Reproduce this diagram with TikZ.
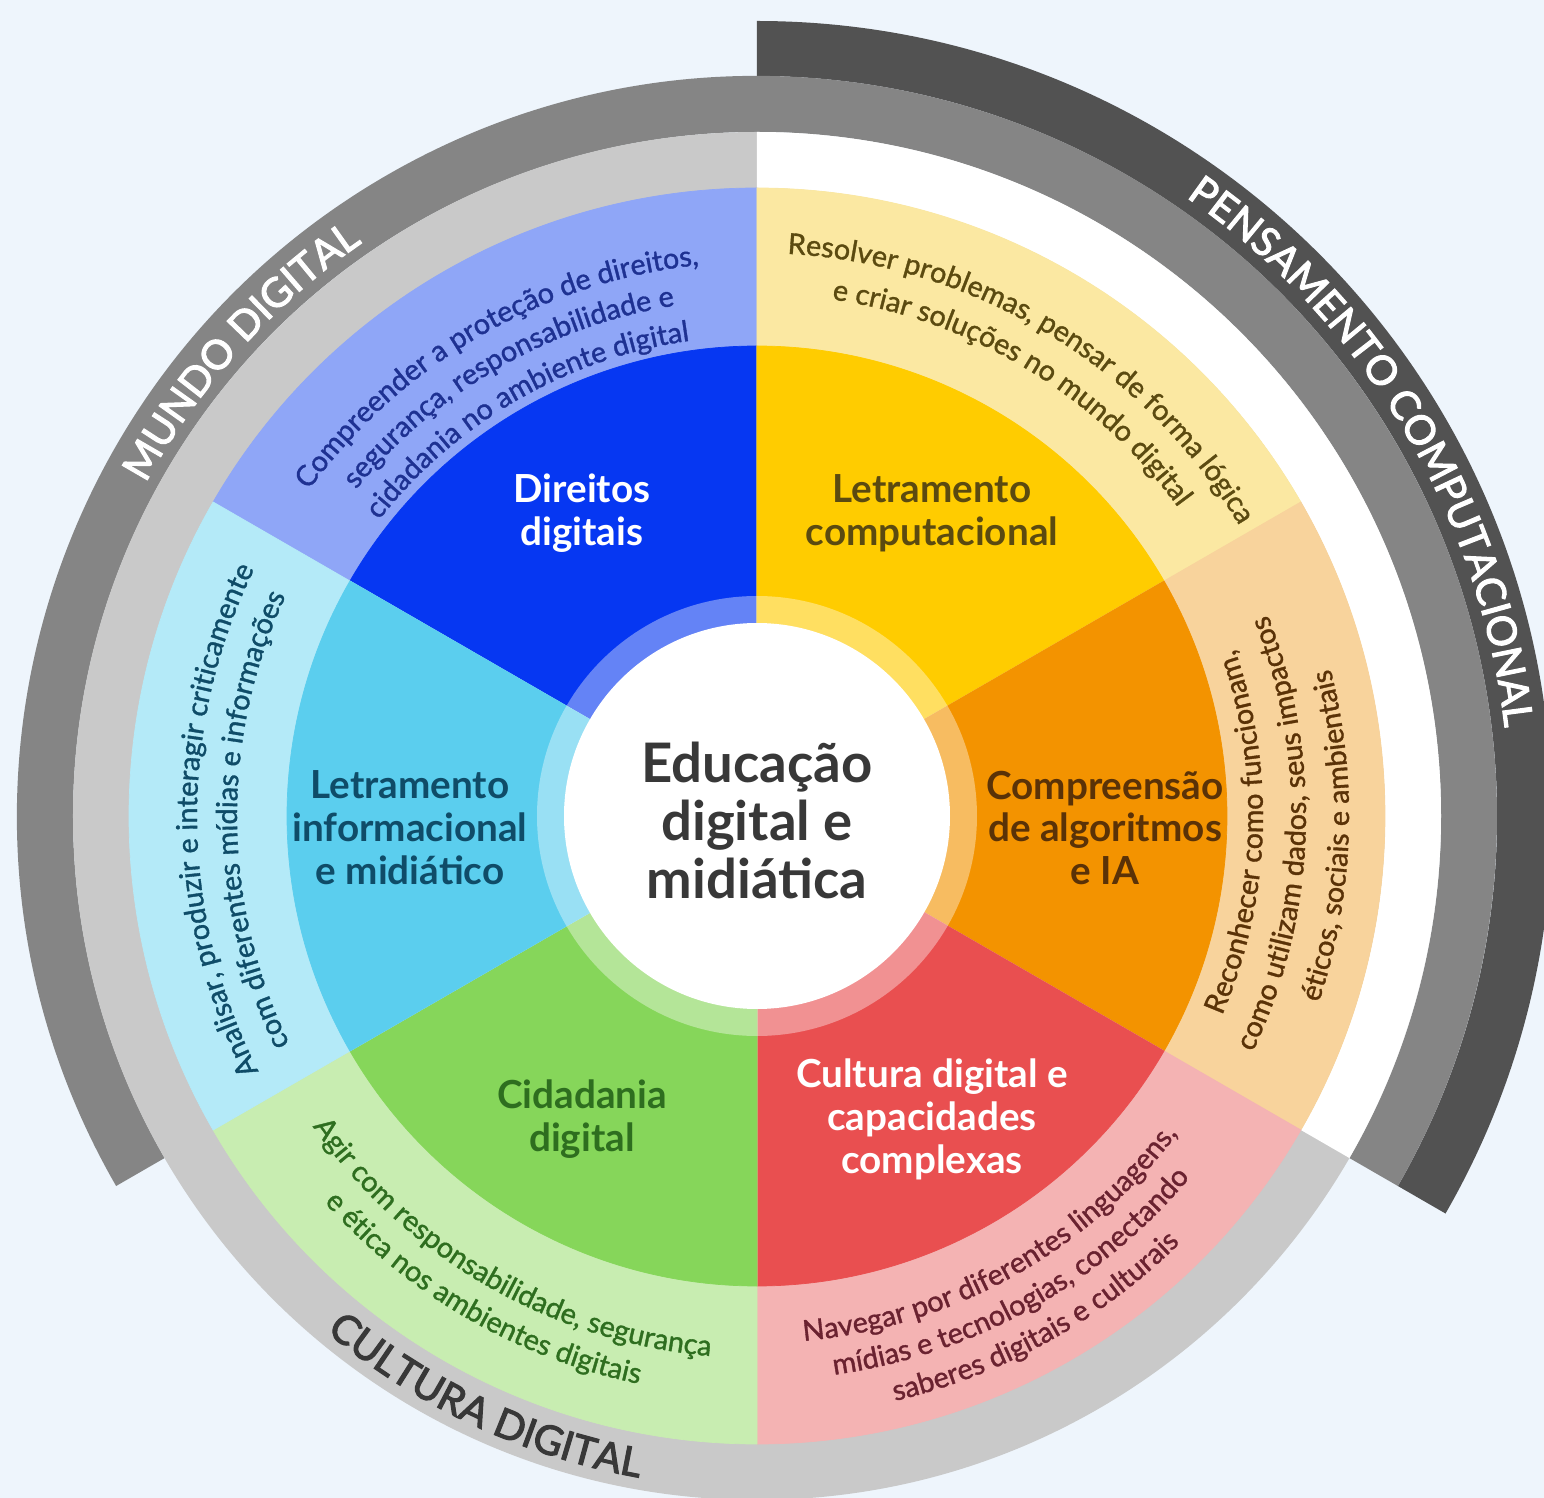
\documentclass[tikz,border=0pt]{standalone}
\usepackage{fontspec}
\setmainfont{Lato}
\newfontfamily\descfam[FakeBold=1.2]{Lato}
\newfontfamily\ringfam[FakeBold=2.6]{Lato}
\usetikzlibrary{decorations.text}
\definecolor{bgcol}{HTML}{EEF5FC}
\definecolor{ringdark}{HTML}{525252}
\definecolor{ringmid}{HTML}{858585}
\definecolor{ringlight}{HTML}{C9C9C9}
\definecolor{dirA}{HTML}{0637F2}
\definecolor{dirB}{HTML}{8FA6F7}
\definecolor{compA}{HTML}{FFCC00}
\definecolor{compB}{HTML}{FBE8A2}
\definecolor{algA}{HTML}{F39300}
\definecolor{algB}{HTML}{F8D39C}
\definecolor{cultA}{HTML}{E94F50}
\definecolor{cultB}{HTML}{F4B3B3}
\definecolor{cidA}{HTML}{86D65A}
\definecolor{cidB}{HTML}{C8EDB1}
\definecolor{infA}{HTML}{5BCEEE}
\definecolor{infB}{HTML}{B4EAF8}
\definecolor{dirT}{HTML}{1E3192}
\definecolor{compT}{HTML}{5B4A10}
\definecolor{algT}{HTML}{5A3207}
\definecolor{cultT}{HTML}{6A2230}
\definecolor{cidT}{HTML}{2E6E1F}
\definecolor{infT}{HTML}{0F4C68}
\definecolor{hubT}{HTML}{383838}
\newcommand\descfont{\descfam\fontsize{8.2}{9}\selectfont}
\newcommand\ringfont{\ringfam\fontsize{11.5}{12}\selectfont}

\begin{document}
\begin{tikzpicture}[
  seglabel/.style={font=\fontsize{11}{12.2}\selectfont\bfseries, align=center},
  arctext/.style={decorate, decoration={text along path, text align=center, text={#1}}}
]
\useasboundingbox (-7.57,-6.82) rectangle (7.87,8.16);
\fill[bgcol] (-7.57,-6.82) rectangle (7.87,8.16);

% outer bands
\fill[ringdark] (90:7.95) arc[start angle=90, end angle=-30, radius=7.95] -- (-30:7.40) arc[start angle=-30, end angle=90, radius=7.40] -- cycle;
\fill[ringmid] (210:7.40) arc[start angle=210, end angle=-30, radius=7.40] -- (-30:6.84) arc[start angle=-30, end angle=210, radius=6.84] -- cycle;
\fill[ringlight] (0,0) circle[radius=6.84];
\fill[white] (90:6.84) arc[start angle=90, end angle=-30, radius=6.84] -- (-30:6.28) arc[start angle=-30, end angle=90, radius=6.28] -- cycle;

% sectors
\foreach \a/\dark/\light in {90/dirA/dirB, 30/compA/compB, -30/algA/algB, -90/cultA/cultB, -150/cidA/cidB, 150/infA/infB}{
  \filldraw[fill=\light, draw=\light, line width=0.2pt] (0,0) -- (\a:6.28) arc[start angle=\a, end angle=\a+60, radius=6.28] -- cycle;
  \filldraw[fill=\dark, draw=\dark, line width=0.2pt] (0,0) -- (\a:4.70) arc[start angle=\a, end angle=\a+60, radius=4.70] -- cycle;
}
\fill[white, opacity=0.38] (0,0) circle[radius=2.20];
\fill[white] (0,0) circle[radius=1.93];

\node[font=\fontsize{15.5}{16.5}\selectfont\bfseries, text=hubT, align=center] (hub) at (0,-0.04) {Educação\\digital e\\midiática};

\node[seglabel, text=white] (dirlab) at (120:3.5) {Direitos\\digitais};
\node[seglabel, text=compT] (complab) at (60:3.5) {Letramento\\computacional};
\node[seglabel, text=algT] (alglab) at (3.48,-0.12) {Compreensão\\de algoritmos\\e IA};
\node[seglabel, text=white] (cultlab) at (-60:3.5) {Cultura digital e\\capacidades\\complexas};
\node[seglabel, text=cidT] (cidlab) at (-120:3.5) {Cidadania\\digital};
\node[seglabel, text=infT] (inflab) at (-3.47,-0.12) {Letramento\\informacional\\e midiático};

% descriptions
\path[arctext={|\descfont\color{dirT}|Compreender a proteção de direitos,}] (150:5.54) arc[start angle=150, end angle=90, radius=5.54];
\path[arctext={|\descfont\color{dirT}|segurança, responsabilidade e}] (150:5.17) arc[start angle=150, end angle=90, radius=5.17];
\path[arctext={|\descfont\color{dirT}|cidadania no ambiente digital}] (150:4.80) arc[start angle=150, end angle=90, radius=4.80];

\path[arctext={|\descfont\color{compT}|Resolver problemas, pensar de forma lógica}] (92:5.63) arc[start angle=92, end angle=26, radius=5.63];
\path[arctext={|\descfont\color{compT}|e criar soluções no mundo digital}] (92:5.22) arc[start angle=92, end angle=26, radius=5.22];

\path[arctext={|\descfont\color{algT}|Reconhecer como funcionam,}] (-32:5.06) arc[start angle=-32, end angle=28, radius=5.06];
\path[arctext={|\descfont\color{algT}|como utilizam dados, seus impactos}] (-32:5.49) arc[start angle=-32, end angle=28, radius=5.49];
\path[arctext={|\descfont\color{algT}|éticos, sociais e ambientais}] (-32:5.92) arc[start angle=-32, end angle=28, radius=5.92];

\path[arctext={|\descfont\color{cultT}|Navegar por diferentes linguagens,}] (-91:5.27) arc[start angle=-91, end angle=-31, radius=5.27];
\path[arctext={|\descfont\color{cultT}|mídias e tecnologias, conectando}] (-91:5.64) arc[start angle=-91, end angle=-31, radius=5.64];
\path[arctext={|\descfont\color{cultT}|saberes digitais e culturais}] (-91:6.01) arc[start angle=-91, end angle=-31, radius=6.01];

\path[arctext={|\descfont\color{cidT}|Agir com responsabilidade, segurança}] (-150:5.42) arc[start angle=-150, end angle=-90, radius=5.42];
\path[arctext={|\descfont\color{cidT}|e ética nos ambientes digitais}] (-150:5.80) arc[start angle=-150, end angle=-90, radius=5.80];

\path[arctext={|\descfont\color{infT}|Analisar, produzir e interagir criticamente}] (212:5.60) arc[start angle=212, end angle=149, radius=5.60];
\path[arctext={|\descfont\color{infT}|com diferentes mídias e informações}] (212:5.20) arc[start angle=212, end angle=149, radius=5.20];

% ring titles
\path[arctext={|\ringfont\color{white}|MUNDO DIGITAL}] (168:6.96) arc[start angle=168, end angle=108, radius=6.96];
\path[arctext={|\ringfont\color{white}|PENSAMENTO COMPUTACIONAL}] (63:7.53) arc[start angle=63, end angle=-1, radius=7.53];
\path[arctext={|\ringfont\color{hubT}|CULTURA DIGITAL}] (-145:6.72) arc[start angle=-145, end angle=-85, radius=6.72];
\end{tikzpicture}
\end{document}
